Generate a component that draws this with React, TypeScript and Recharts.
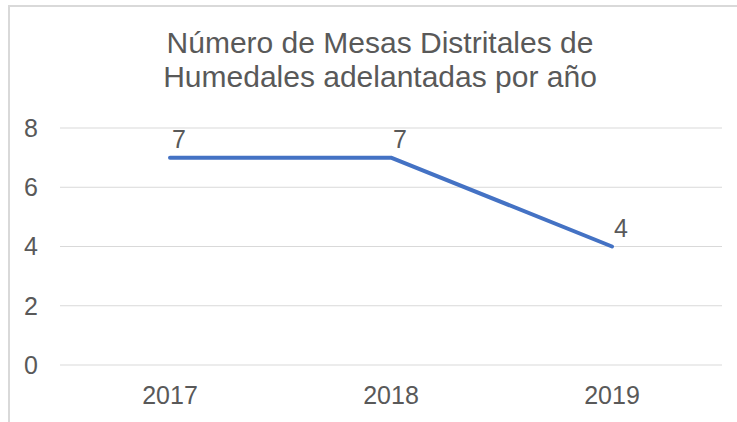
import { LineChart, Line, XAxis, YAxis, CartesianGrid, LabelList } from "recharts"

const years = ["2017", "2018", "2019"]
const mesas = [7, 7, 4]
const yTicks = [0, 2, 4, 6, 8]
const titleLines = ["Número de Mesas Distritales de", "Humedales adelantadas por año"]

const data = years.map((year, i) => ({ year, mesas: mesas[i] }))

const font = "'Liberation Sans', Arial, sans-serif"
const textColor = "#595959"

const renderLabel = (props: any) => {
  const { x, y, value } = props
  return (
    <text x={x + 9} y={y - 10} fill={textColor} fontSize={25} fontFamily={font} textAnchor="middle">
      {value}
    </text>
  )
}

export default function App() {
  return (
    <div style={{ position: "fixed", left: 0, top: 0, width: 737, height: 422, background: "#fff", overflow: "hidden" }}>
      {/* chart frame, only top and left edges are visible in the crop */}
      <div
        style={{
          position: "absolute",
          left: 8,
          top: 5,
          width: 760,
          height: 440,
          borderTop: "2px solid #d9d9d9",
          borderLeft: "2px solid #d9d9d9",
        }}
      />
      <div
        style={{
          position: "absolute",
          left: 30,
          width: 700,
          top: 26,
          textAlign: "center",
          fontFamily: font,
          fontSize: 30,
          lineHeight: "34px",
          color: textColor,
        }}
      >
        {titleLines.map((t) => (
          <div key={t}>{t}</div>
        ))}
      </div>
      <div style={{ position: "absolute", left: 0, top: 0 }}>
        <LineChart width={737} height={422} data={data} margin={{ top: 128, right: 15, bottom: 27, left: 0 }}>
          <CartesianGrid vertical={false} stroke="#d9d9d9" strokeWidth={1} />
          <XAxis
            dataKey="year"
            height={30}
            axisLine={false}
            tickLine={false}
            tickSize={0}
            tickMargin={21}
            padding={{ left: 110, right: 110 }}
            tick={{ fill: textColor, fontSize: 25, fontFamily: font }}
          />
          <YAxis
            width={60}
            domain={[0, 8]}
            ticks={yTicks}
            axisLine={false}
            tickLine={false}
            tickSize={0}
            tickMargin={22}
            tick={{ fill: textColor, fontSize: 25, fontFamily: font }}
          />
          <Line
            type="linear"
            dataKey="mesas"
            stroke="#4472c4"
            strokeWidth={4}
            strokeLinecap="round"
            strokeLinejoin="round"
            dot={false}
            activeDot={false}
            isAnimationActive={false}
          >
            <LabelList dataKey="mesas" content={renderLabel} />
          </Line>
        </LineChart>
      </div>
    </div>
  )
}
